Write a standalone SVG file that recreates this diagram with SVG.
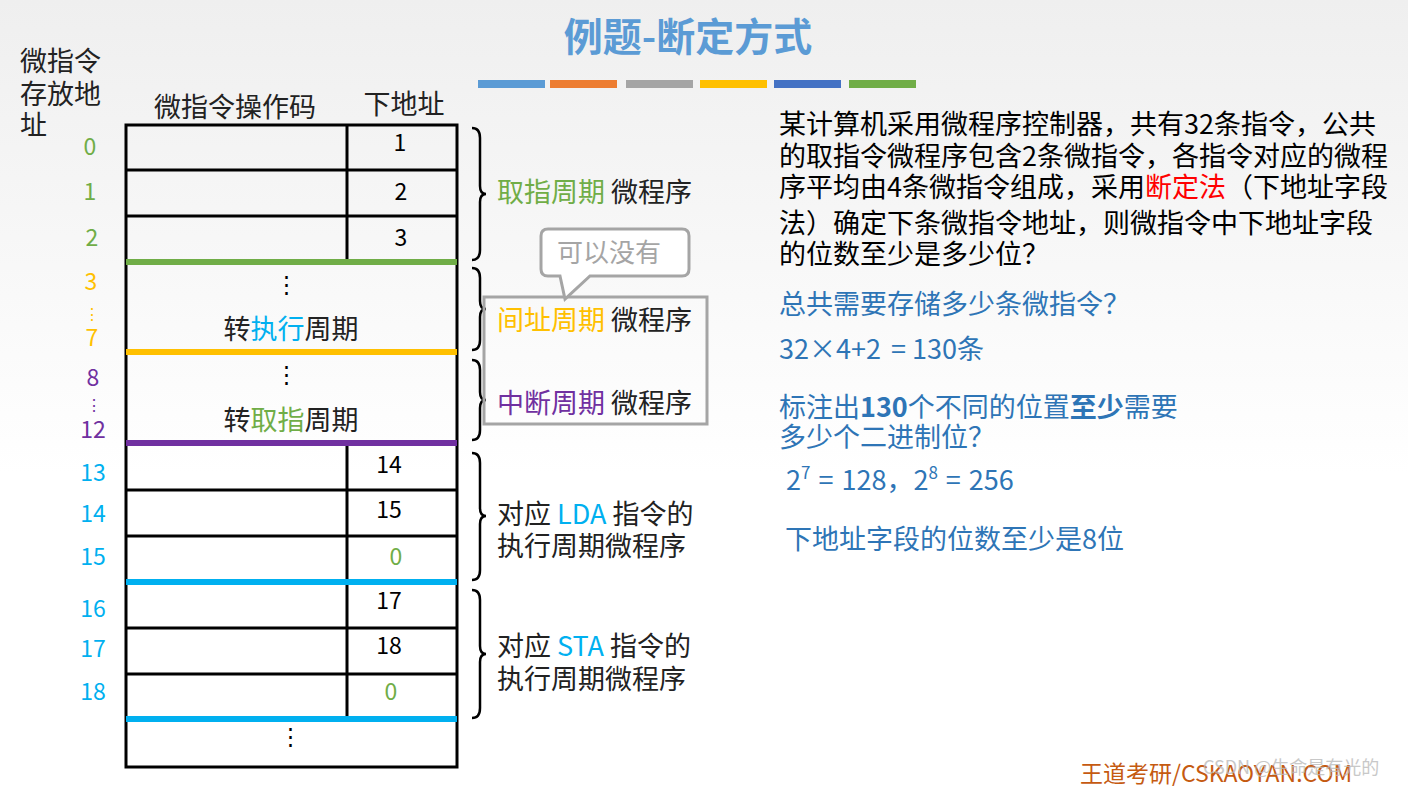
<svg xmlns="http://www.w3.org/2000/svg" width="1408" height="789" viewBox="0 0 1408 789">
<defs>
<linearGradient id="bg" x1="0" y1="0" x2="0" y2="1"><stop offset="0" stop-color="#efefef"/><stop offset="0.6" stop-color="#ffffff"/></linearGradient>
</defs>
<style>
text{font-family:"Noto Sans CJK SC","Liberation Sans",sans-serif}
.t{font-size:27px;fill:#222}
.n{font-size:23px;text-anchor:middle}
.d{font-size:16px;text-anchor:middle}
.g{fill:#70AD47}.o{fill:#FFC000}.p{fill:#7030A0}.c{fill:#00B0F0}.k{fill:#000}
.b{font-size:27px;fill:#2E75B6}
.r{font-size:27px;fill:#000}
.cell{fill:none;stroke:#000;stroke-width:3}
.br{fill:none;stroke:#000;stroke-width:2.5}
</style>
<rect width="1408" height="789" fill="url(#bg)"/>
<text x="688" y="51" font-size="39" font-weight="bold" fill="#5B9BD5" text-anchor="middle">例题-断定方式</text>
<g id="bars">
<rect x="478" y="80" width="67" height="8" fill="#5B9BD5"/>
<rect x="550" y="80" width="67" height="8" fill="#ED7D31"/>
<rect x="626" y="80" width="67" height="8" fill="#A5A5A5"/>
<rect x="700" y="80" width="67" height="8" fill="#FFC000"/>
<rect x="774" y="80" width="67" height="8" fill="#4472C4"/>
<rect x="849" y="80" width="67" height="8" fill="#70AD47"/>
</g>
<g id="leftlabels">
<text class="t" x="20" y="71" font-size="26">微指令</text>
<text class="t" x="20" y="104" font-size="26">存放地</text>
<text class="t" x="20" y="135" font-size="26">址</text>
<text class="n g" x="90" y="155">0</text>
<text class="n g" x="90" y="200">1</text>
<text class="n g" x="92" y="246">2</text>
<text class="n o" x="91" y="290">3</text>
<text class="d o" x="92" y="320">⋮</text>
<text class="n o" x="92" y="346">7</text>
<text class="n p" x="93" y="386">8</text>
<text class="d p" x="94" y="411">⋮</text>
<text class="n p" x="93" y="438">12</text>
<text class="n c" x="93" y="481">13</text>
<text class="n c" x="93" y="522">14</text>
<text class="n c" x="93" y="565">15</text>
<text class="n c" x="93" y="617">16</text>
<text class="n c" x="93" y="657">17</text>
<text class="n c" x="93" y="700">18</text>
</g>
<g id="table">
<text class="t" x="235" y="117" text-anchor="middle">微指令操作码</text>
<text class="t" x="404" y="114" text-anchor="middle">下地址</text>
<rect class="cell" x="126" y="125" width="331" height="642"/>
<line class="cell" x1="347" y1="125" x2="347" y2="262"/>
<line class="cell" x1="126" y1="170" x2="457" y2="170"/>
<line class="cell" x1="126" y1="216" x2="457" y2="216"/>
<line class="cell" x1="347" y1="443" x2="347" y2="719"/>
<line class="cell" x1="126" y1="490" x2="457" y2="490"/>
<line class="cell" x1="126" y1="536" x2="457" y2="536"/>
<line class="cell" x1="126" y1="628" x2="457" y2="628"/>
<line class="cell" x1="126" y1="674" x2="457" y2="674"/>
<rect x="126" y="259" width="331" height="6" fill="#70AD47"/>
<rect x="126" y="349" width="331" height="6" fill="#FFC000"/>
<rect x="126" y="440" width="331" height="6" fill="#7030A0"/>
<rect x="126" y="579" width="331" height="6" fill="#00B0F0"/>
<rect x="126" y="716" width="331" height="6" fill="#00B0F0"/>
<text class="n k" x="400" y="151">1</text>
<text class="n k" x="401" y="200">2</text>
<text class="n k" x="401" y="246">3</text>
<text class="n k" x="389" y="473">14</text>
<text class="n k" x="389" y="518">15</text>
<text class="n g" x="396" y="565">0</text>
<text class="n k" x="389" y="609">17</text>
<text class="n k" x="389" y="654">18</text>
<text class="n g" x="391" y="700">0</text>
<text class="n k" x="286" y="292">⋮</text>
<text class="t" x="291" y="339" text-anchor="middle">转<tspan fill="#00B0F0">执行</tspan>周期</text>
<text class="n k" x="286" y="382">⋮</text>
<text class="t" x="291" y="430" text-anchor="middle">转<tspan fill="#70AD47">取指</tspan>周期</text>
<text class="n k" x="290" y="744">⋮</text>
</g>
<g id="connectors">
<path class="br" d="M472,128 Q480,128 480,138 L480,186 Q480,194 486,194 Q480,194 480,202 L480,250 Q480,260 472,260"/>
<path class="br" d="M472,268 Q480,268 480,278 L480,301 Q480,309 486,309 Q480,309 480,317 L480,340 Q480,350 472,350"/>
<path class="br" d="M472,360 Q480,360 480,370 L480,392 Q480,400 486,400 Q480,400 480,408 L480,430 Q480,440 472,440"/>
<path class="br" d="M472,453 Q480,453 480,463 L480,508 Q480,516 486,516 Q480,516 480,524 L480,570 Q480,580 472,580"/>
<path class="br" d="M472,590 Q480,590 480,600 L480,646 Q480,654 486,654 Q480,654 480,662 L480,708 Q480,718 472,718"/>
</g>
<g id="braceLabels">
<text class="t" x="497" y="202"><tspan fill="#70AD47">取指周期</tspan> 微程序</text>
<rect x="484" y="297" width="223" height="127" fill="none" stroke="#A5A5A5" stroke-width="3"/>
<text class="t" x="497" y="330"><tspan fill="#FFC000">间址周期</tspan> 微程序</text>
<text class="t" x="497" y="413"><tspan fill="#7030A0">中断周期</tspan> 微程序</text>
<text class="t" x="497" y="524">对应 <tspan fill="#00B0F0">LDA</tspan> 指令的</text>
<text class="t" x="497" y="556">执行周期微程序</text>
<text class="t" x="497" y="656">对应 <tspan fill="#00B0F0">STA</tspan> 指令的</text>
<text class="t" x="497" y="689">执行周期微程序</text>
</g>
<g id="callout">
<path d="M548,229 H682 Q689,229 689,236 V269 Q689,276 682,276 H590 L565,299 L560,276 H548 Q541,276 541,269 V236 Q541,229 548,229 Z" fill="#fff" stroke="#A5A5A5" stroke-width="3"/>
<text x="609" y="262" font-size="26" fill="#A5A5A5" text-anchor="middle">可以没有</text>
</g>
<g id="question">
<text class="r" x="779" y="134">某计算机采用微程序控制器，共有32条指令，公共</text>
<text class="r" x="779" y="166">的取指令微程序包含2条微指令，各指令对应的微程</text>
<text class="r" x="779" y="197">序平均由4条微指令组成，采用<tspan fill="#FF0000">断定法</tspan>（下地址字段</text>
<text class="r" x="779" y="233">法）确定下条微指令地址，则微指令中下地址字段</text>
<text class="r" x="779" y="264">的位数至少是多少位？</text>
</g>
<g id="answer">
<text class="b" x="779" y="314">总共需要存储多少条微指令？</text>
<text class="b" x="779" y="359">32×4+2 <tspan dx="4">=</tspan><tspan dx="6">130条</tspan></text>
<text class="b" x="779" y="417">标注出<tspan font-weight="bold">130</tspan>个不同的位置<tspan font-weight="bold">至少</tspan>需要</text>
<text class="b" x="779" y="447">多少个二进制位？</text>
<text class="b" x="786" y="490">2<tspan font-size="17" dy="-11">7</tspan><tspan dy="11" dx="8">=</tspan><tspan dx="8">128，2</tspan><tspan font-size="17" dy="-11">8</tspan><tspan dy="11" dx="8">=</tspan><tspan dx="8">256</tspan></text>
<text class="b" x="785" y="549">下地址字段的位数至少是8位</text>
</g>
<text x="1080" y="782" font-size="23" fill="#C55A11">王道考研/CSKAOYAN.COM</text>
<text x="1203" y="774" font-size="18" fill="#bbbbbb" opacity="0.8">CSDN @生命是有光的</text>
</svg>
